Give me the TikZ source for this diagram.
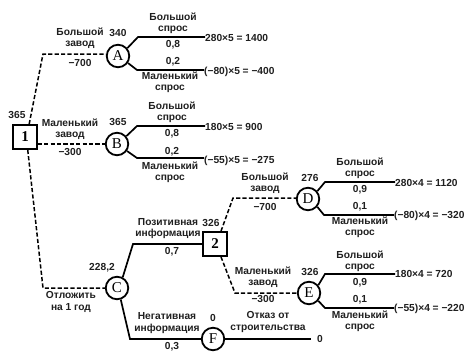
\documentclass[tikz,border=0pt]{standalone}
\usepackage{fontspec}
\setmainfont{Liberation Sans}
\newfontfamily\seriffont{Liberation Serif}
\begin{document}
\begin{tikzpicture}[x=1pt,y=-1pt,
  chance/.style={circle, draw, line width=1.8pt, minimum size=22.5pt, inner sep=0pt, fill=white, font=\seriffont\fontsize{15}{15}\selectfont},
  decision/.style={rectangle, draw, line width=1.6pt, minimum size=24pt, inner sep=0pt, fill=white, font=\seriffont\bfseries\fontsize{15}{15}\selectfont},
  lbl/.style={font=\bfseries\fontsize{10.2}{11.3}\selectfont, align=center, inner sep=0pt, text=black!88},
  pay/.style={lbl, anchor=west},
  dline/.style={dash pattern=on 4.2pt off 2.2pt, line width=1.5pt},
  sline/.style={line width=1.7pt}]
\useasboundingbox (0,0) rectangle (464,354);

% nodes
\node[decision] (n1) at (25,137) {1};
\node[chance] (A) at (118,56) {A};
\node[chance] (B) at (117,144) {B};
\node[chance] (C) at (117,288) {C};
\node[decision] (n2) at (215,244) {2};
\node[chance] (D) at (308,199) {D};
\node[chance] (E) at (309,293) {E};
\node[chance] (F) at (213,339) {F};

% payoff labels
\node[pay] (pA1) at (205,38) {280×5 = 1400};
\node[pay] (pA2) at (204,72) {(−80)×5 = −400};
\node[pay] (pB1) at (205,127) {180×5 = 900};
\node[pay] (pB2) at (204,161) {(−55)×5 = −275};
\node[pay] (pD1) at (395,183) {280×4 = 1120};
\node[pay] (pD2) at (394,216) {(−80)×4 = −320};
\node[pay] (pE1) at (395,274) {180×4 = 720};
\node[pay] (pE2) at (394,309) {(−55)×4 = −220};
\node[pay] (pF) at (317,339) {0};

% corner coordinates
\coordinate (a1) at (138,37);
\coordinate (a2) at (137,70);
\coordinate (b1) at (137,126);
\coordinate (b2) at (137,158);
\coordinate (d1) at (325,182);
\coordinate (d2) at (324,215);
\coordinate (e1) at (325,274);
\coordinate (e2) at (325,308);
\coordinate (c1) at (43,54);
\coordinate (c3) at (43,288);
\coordinate (cp) at (133,244);
\coordinate (cn) at (130,339);
\coordinate (k1) at (233,198);
\coordinate (k2) at (235,293);
\coordinate (fend) at (311,339);

% dashed decisions
\draw[dline] (n1.72) -- (c1) -- (c1 -| A.west);
\draw[dline] (n1.east |- B.west) -- (B.west);
\draw[dline] (n1.-78) -- (c3) -- (C.west);
\draw[dline] (n2.65) -- (k1) -- (k1 -| D.west);
\draw[dline] (n2.-65) -- (k2) -- (E.west);

% solid chance branches
\draw[sline] (A.40) -- (a1) -- (a1 -| pA1.west);
\draw[sline] (A.-35) -- (a2) -- (a2 -| pA2.west);
\draw[sline] (B.40) -- (b1) -- (b1 -| pB1.west);
\draw[sline] (B.-35) -- (b2) -- (b2 -| pB2.west);
\draw[sline] (D.40) -- (d1) -- (d1 -| pD1.west);
\draw[sline] (D.-40) -- (d2) -- (d2 -| pD2.west);
\draw[sline] (E.40) -- (e1) -- (e1 -| pE1.west);
\draw[sline] (E.-40) -- (e2) -- (e2 -| pE2.west);
\draw[sline] (C.62) -- (cp) -- (n2.west);
\draw[sline] (C.-72) -- (cn) -- (F.west);
\draw[sline] (F.east) -- (fend);

% text labels
\node[lbl] (v1) at (17,115) {365};
\node[lbl] (vA) at (118,33) {340};
\node[lbl] (vB) at (118,122) {365};
\node[lbl] (vC) at (102,268) {228,2};
\node[lbl] (v2) at (211,223) {326};
\node[lbl] (vD) at (310,178) {276};
\node[lbl] (vE) at (310,272) {326};
\node[lbl] (vF) at (213,318) {0};

\node[lbl] (tA) at (80,38.5) {Большой\\завод};
\node[lbl] (cA) at (80,63) {−700};
\node[lbl] (tB) at (70,129) {Маленький\\завод};
\node[lbl] (cB) at (70,152) {−300};
\node[lbl] (tC) at (71,302) {Отложить\\на 1 год};

\node[lbl] (hA) at (173,23) {Большой\\спрос};
\node[lbl] (pa1) at (173,45) {0,8};
\node[lbl] (pa2) at (173,62) {0,2};
\node[lbl] (lA) at (170,82.5) {Маленький\\спрос};

\node[lbl] (hB) at (172,112.5) {Большой\\спрос};
\node[lbl] (pb1) at (172,134) {0,8};
\node[lbl] (pb2) at (172,152) {0,2};
\node[lbl] (lB) at (170,172) {Маленький\\спрос};

\node[lbl] (tpos) at (168,228.5) {Позитивная\\информация};
\node[lbl] (ppos) at (172,252) {0,7};
\node[lbl] (tneg) at (167,323) {Негативная\\информация};
\node[lbl] (pneg) at (172,347) {0,3};

\node[lbl] (tD) at (265,183.5) {Большой\\завод};
\node[lbl] (cD) at (265,207) {−700};
\node[lbl] (tE) at (263,277.5) {Маленький\\завод};
\node[lbl] (cE) at (263,299) {−300};
\node[lbl] (tF) at (268,322) {Отказ от\\строительства};

\node[lbl] (hD) at (360,168.5) {Большой\\спрос};
\node[lbl] (pd1) at (360,190) {0,9};
\node[lbl] (pd2) at (360,207) {0,1};
\node[lbl] (lD) at (360,227) {Маленький\\спрос};

\node[lbl] (hE) at (360,261.5) {Большой\\спрос};
\node[lbl] (pe1) at (360,283) {0,9};
\node[lbl] (pe2) at (360,300) {0,1};
\node[lbl] (lE) at (360,321.5) {Маленький\\спрос};
\end{tikzpicture}
\end{document}
